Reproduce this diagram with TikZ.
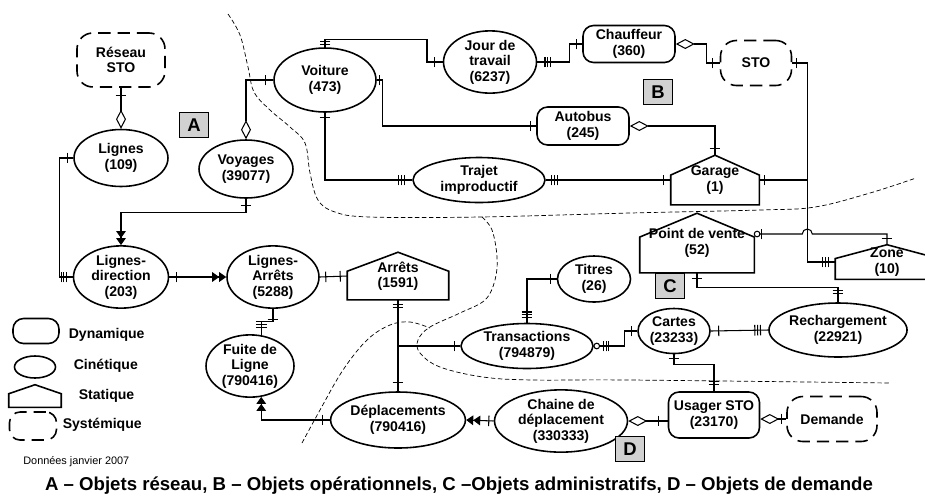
\documentclass[tikz,border=0pt]{standalone}
\usepackage{fontspec}
\setmainfont{Liberation Sans}
\usetikzlibrary{shapes.geometric, arrows.meta, decorations.markings, calc}
\tikzstyle{entity} = [font=\fontsize{8}{8.8}\selectfont\bfseries, align=center, inner sep=0pt, line width=0.9pt]
\tikzstyle{cinetique} = [entity, ellipse, draw]
\tikzstyle{dynamique} = [entity, rectangle, rounded corners=6pt, draw]
\tikzstyle{systemique} = [entity, rectangle, rounded corners=9pt, draw, dash pattern=on 7pt off 4pt]
\tikzstyle{statique} = [entity, rectangle]
\tikzstyle{zonebox} = [rectangle, draw=black, line width=0.4pt, fill=black!18, font=\fontsize{10.5}{10.5}\selectfont\bfseries, minimum width=0.58cm, minimum height=0.5cm, inner sep=0pt]
\tikzstyle{link} = [line width=0.6pt]
\tikzstyle{region} = [line width=0.4pt, dash pattern=on 2.5pt off 1.5pt]
\tikzstyle{dbl} = [-{Triangle[length=4pt,width=5.5pt]Triangle[length=4pt,width=5.5pt]}]
\tikzstyle{agg} = [-{Turned Square[open,length=0.38cm,width=0.2cm]}]
\tikzstyle{aggs} = [{Turned Square[open,length=0.38cm,width=0.2cm]}-]
\tikzset{
  one bar/.style={postaction={decorate,decoration={markings,mark=at position #1 with {\draw[-,solid,line width=0.6pt] (0,-3pt) -- (0,3pt);}}}},
  two bars/.style={postaction={decorate,decoration={markings,mark=at position #1 with {\draw[-,solid,line width=0.6pt] (-0.8pt,-3pt) -- (-0.8pt,3pt) (0.8pt,-3pt) -- (0.8pt,3pt);}}}},
  three bars/.style={postaction={decorate,decoration={markings,mark=at position #1 with {\draw[-,solid,line width=0.6pt] (-1.6pt,-3pt) -- (-1.6pt,3pt) (0,-3pt) -- (0,3pt) (1.6pt,-3pt) -- (1.6pt,3pt);}}}},
  zero ring/.style={postaction={decorate,decoration={markings,mark=at position #1 with {\draw[-,solid,line width=0.6pt,fill=white] (0,0) circle (1.6pt);}}}}
}
\newcommand{\maison}[1]{\draw[line width=0.9pt] (#1.south west) -- ($(#1.south west)!0.6!(#1.north west)$) -- (#1.north) -- ($(#1.south east)!0.6!(#1.north east)$) -- (#1.south east) -- cycle;}
\begin{document}
\begin{tikzpicture}[x=0.02cm, y=-0.02cm]
\path[use as bounding box, fill=white] (0,0) rectangle (925,498);

\node (res) [systemique, minimum width=1.76cm, minimum height=1.08cm] at (121,60) {Réseau\\STO};
\node (lig) [cinetique, minimum width=1.88cm, minimum height=1.14cm] at (121,158) {Lignes\\(109)};
\node (voy) [cinetique, minimum width=1.88cm, minimum height=1.16cm] at (246,169) {Voyages\\(39077)};
\node (voi) [cinetique, minimum width=2.04cm, minimum height=1.28cm] at (325,80) {Voiture\\(473)};
\node (jour) [cinetique, minimum width=1.86cm, minimum height=1.2cm] at (490,62) {Jour de\\travail\\(6237)};
\node (cha) [dynamique, minimum width=1.84cm, minimum height=0.74cm] at (629,44) {Chauffeur\\(360)};
\node (sto) [systemique, minimum width=1.42cm, minimum height=0.9cm] at (756,63) {STO};
\node (aut) [dynamique, minimum width=1.84cm, minimum height=0.76cm] at (583,126) {Autobus\\(245)};
\node (traj) [cinetique, minimum width=2.64cm, minimum height=0.9cm] at (479,180) {Trajet\\improductif};
\node (gar) [statique, minimum width=1.74cm, minimum height=0.96cm] at (715,180) {Garage\\(1)};
\node (pdv) [statique, minimum width=2.26cm, minimum height=1.16cm] at (697,243) {Point de vente\\(52)};
\node (zone) [statique, minimum width=2.04cm, minimum height=0.66cm] at (887,262) {Zone\\(10)};
\node (ldir) [cinetique, minimum width=1.9cm, minimum height=1.16cm] at (121,277) {Lignes-\\direction\\(203)};
\node (larr) [cinetique, minimum width=1.84cm, minimum height=1.0cm] at (273,277) {Lignes-\\Arrêts\\(5288)};
\node (arr) [statique, minimum width=2.0cm, minimum height=0.92cm] at (398,276) {Arrêts\\(1591)};
\node (tit) [cinetique, minimum width=1.46cm, minimum height=0.92cm] at (594,279) {Titres\\(26)};
\node (fuite) [cinetique, minimum width=1.76cm, minimum height=1.12cm] at (250,366) {Fuite de\\Ligne\\(790416)};
\node (tra) [cinetique, minimum width=2.64cm, minimum height=0.9cm] at (527,346) {Transactions\\(794879)};
\node (car) [cinetique, minimum width=1.44cm, minimum height=0.9cm] at (674,331) {Cartes\\(23233)};
\node (rec) [cinetique, minimum width=2.68cm, minimum height=1.08cm] at (838,330) {Rechargement\\(22921)};
\node (usa) [dynamique, minimum width=1.82cm, minimum height=0.92cm] at (714,415) {Usager STO\\(23170)};
\node (dem) [systemique, minimum width=1.8cm, minimum height=0.9cm] at (832,419) {Demande};
\node (chain) [cinetique, minimum width=2.66cm, minimum height=1.06cm] at (561,421) {Chaine de\\déplacement\\(330333)};
\node (dep) [cinetique, minimum width=2.46cm, minimum height=1.12cm] at (398,420) {Déplacements\\(790416)};
\maison{gar}
\maison{pdv}
\maison{zone}
\maison{arr}

\node (za) [zonebox] at (194,125) {A};
\node (zb) [zonebox] at (658,92) {B};
\node (zc) [zonebox] at (670,286) {C};
\node (zd) [zonebox] at (630,449) {D};

\draw[link, agg, one bar=4.5pt] (res.south) -- (lig.north);
\draw[link, one bar=3.4pt, three bars=-5pt] (lig.west) -- ++(-14,0) |- (ldir.west);
\draw[link, aggs, one bar=-4.5pt] (voy.north) |- (voi.west);
\draw[link, dbl, one bar=4pt] (voy.south) -- ++(0,14) -| (ldir.north);
\draw[link, dbl, one bar=4pt] (ldir.east) -- (larr.west);
\draw[link, one bar=3.4pt, one bar=-4pt] (larr.east) -- (arr.west);
\draw[link, one bar=6pt, three bars=-6pt] (larr.south) -- ++(0,13) -| (fuite.70);
\draw[link, two bars=3.5pt, one bar=-5pt] (arr.south) -- (dep.north);
\draw[link, one bar=-3.4pt] (arr.south |- tra.west) -- (tra.west);
\draw[link, one bar=3.4pt, three bars=-4.5pt] (tit.west) -| (tra.north);
\draw[link, zero ring=1.7pt, three bars=7pt, one bar=-3.4pt] (tra.east) -- ++(31,0) |- (car.west);
\draw[link, one bar=4.5pt, three bars=-6pt] (car.east) -- (rec.west);
\draw[link, one bar=3.4pt, two bars=-6pt] (pdv.south) -- ++(0,15) -| (rec.north);
\draw[link, one bar=2.5pt, two bars=-4.5pt] (car.south) -- ++(0,10) -| (usa.north);
\draw[link, one bar=2.5pt, three bars=-5.5pt] (sto.east) -- ++(15,0) coordinate (k) |- (zone.west);
\draw[link, one bar=2.8pt] (gar.east) -- (gar.east -| k);
\draw[link, zero ring=1.6pt, one bar=4pt, one bar=-3.4pt] ([yshift=0.18cm]pdv.east) -- ++(48,0) arc[start angle=180, end angle=0, radius=0.1cm] -| (zone.north);
\draw[link, aggs, one bar=-4pt] (aut.east) -| (gar.north);
\draw[link, one bar=1.5pt, one bar=-3pt] (voi.east) -- ++(6,0) |- (aut.west);
\draw[link, one bar=2.8pt, three bars=-6pt] (voi.south) |- (traj.west);
\draw[link, three bars=5pt, one bar=-4pt] (traj.east) -- (gar.west);
\draw[link, two bars=2.5pt, one bar=-4.5pt] (voi.north) -- ++(0,-8) -- ++(102,0) |- (jour.west);
\draw[link, three bars=6pt, one bar=-3.4pt] (jour.east) -- ++(32,0) |- (cha.west);
\draw[link, aggs, one bar=-4pt] (cha.east) -- ++(31,0) |- (sto.west);
\draw[link, dbl, one bar=4pt] (dep.west) -| (fuite.-70);
\draw[link, dbl, one bar=2.8pt] (chain.west) -- (dep.east);
\draw[link, agg, one bar=5pt] (usa.west |- chain.east) -- (chain.east);
\draw[link, agg, one bar=2.5pt] (dem.west) -- (dem.west -| usa.east);

\draw[region] plot[smooth, tension=0.6] coordinates {(228,14) (240,35) (248,67) (254,92) (270,110) (290,127) (305,143) (310,173) (318,200) (335,212) (370,217) (480,217) (630,213) (760,210) (815,207) (870,193) (916,178)};
\draw[region] plot[smooth, tension=0.6] coordinates {(482,217) (492,230) (497,257) (495,280) (485,300) (460,313) (430,327) (418,340) (420,353) (440,367) (483,377) (533,380) (630,380) (890,383)};
\draw[region] plot[smooth, tension=0.6] coordinates {(302,443) (320,410) (343,370) (367,340) (390,325) (410,322) (430,328)};

\node (ldyn) [dynamique, minimum width=0.92cm, minimum height=0.5cm] at (36,331) {};
\node (lcin) [cinetique, minimum width=0.82cm, minimum height=0.44cm] at (35,367) {};
\node (lsta) [statique, minimum width=1.02cm, minimum height=0.42cm] at (35,396) {};
\node (lsys) [systemique, rounded corners=6pt, minimum width=0.94cm, minimum height=0.56cm] at (33,426) {};
\maison{lsta}
\node (tdyn) [entity, anchor=west] at (68,335) {Dynamique};
\node (tcin) [entity, anchor=west] at (73,366) {Cinétique};
\node (tsta) [entity, anchor=west] at (78,396) {Statique};
\node (tsys) [entity, anchor=west] at (62,425) {Systémique};
\node (src) [font=\fontsize{6.2}{7}\selectfont, anchor=west, inner sep=0pt] at (23,462) {Données janvier 2007};
\node (cap) [font=\fontsize{10.6}{12}\selectfont\bfseries, inner sep=0pt] at (459,486) {A – Objets réseau, B – Objets opérationnels, C –Objets administratifs, D – Objets de demande};
\end{tikzpicture}
\end{document}
